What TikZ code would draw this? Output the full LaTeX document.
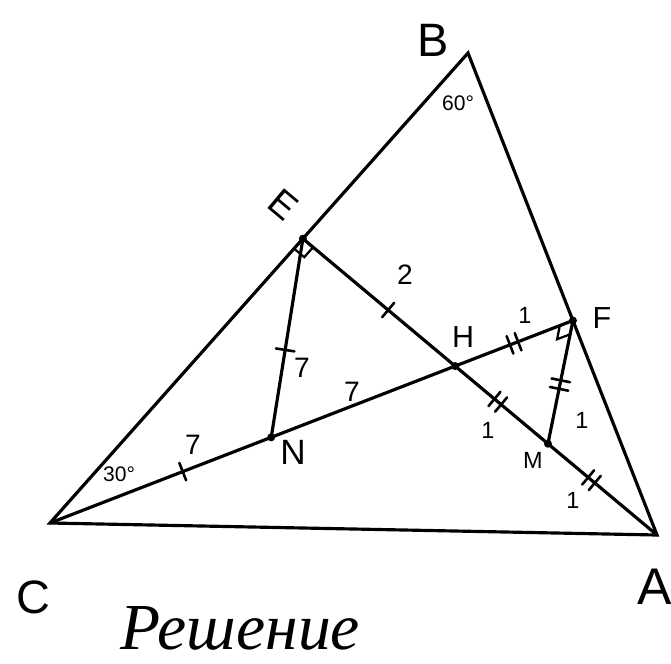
\documentclass[tikz,border=0pt]{standalone}
\usepackage{fontspec}
\setmainfont{Liberation Serif}
\newfontfamily\labfont{Liberation Sans}
\usetikzlibrary{calc,decorations.markings}
\begin{document}
\begin{tikzpicture}[x=0.03cm,y=-0.03cm,
  seg/.style={line width=2.7pt, line cap=round},
  onetick/.style={postaction={decorate,decoration={markings,mark=at position #1 with {\draw[line width=2.2pt] (0,-0.28cm)--(0,0.28cm);}}}},
  twotick/.style={postaction={decorate,decoration={markings,mark=at position #1 with {\draw[line width=2.2pt] (-0.13cm,-0.28cm)--(-0.13cm,0.28cm) (0.13cm,-0.28cm)--(0.13cm,0.28cm);}}}},
  dot/.style={circle, fill, inner sep=0, minimum size=0.24cm},
  lab/.style={font=\labfont\fontsize{#1}{#1}\selectfont, inner sep=0},
  ramark/.style={line width=1.9pt},
]
\useasboundingbox (0,0) rectangle (671,663);
% points
\coordinate (C) at (50,523);
\coordinate (A) at (657,535);
\coordinate (B) at (468,53);
\coordinate (E) at ($(C)!0.605!(B)$);
\coordinate (H) at ($(E)!0.43!(A)$);
\coordinate (F) at (intersection of C--H and B--A);
\coordinate (N) at ($(C)!0.546!(H)$);
\coordinate (M) at ($(E)!0.692!(A)$);
% triangle
\draw[seg] (C) -- (B) -- (A) -- cycle;
% segments with ticks
\draw[seg, onetick=0.6] (C) -- (N);
\draw[seg] (N) -- (H);
\draw[seg, twotick=0.5] (H) -- (F);
\draw[seg, onetick=0.56] (E) -- (N);
\draw[seg, onetick=0.56] (E) -- (H);
\draw[seg, twotick=0.46] (H) -- (M);
\draw[seg, twotick=0.4] (M) -- (A);
\draw[seg, twotick=0.52] (F) -- (M);
% right angle marks
\coordinate (e1) at ($(E)!0.4cm!(C)$);
\coordinate (e2) at ($(E)!0.4cm!(H)$);
\coordinate (e3) at ($(e1)+(e2)-(E)$);
\draw[ramark] (e1) -- (e3) -- (e2);
\coordinate (f1) at ($(F)!0.42cm!(H)$);
\coordinate (f2) at ($(F)!0.42cm!(M)$);
\coordinate (f3) at ($(f1)+(f2)-(F)$);
\draw[ramark] (f1) -- (f3) -- (f2);
% dots
\node[dot] (dE) at (E) {};
\node[dot] (dH) at (H) {};
\node[dot] (dN) at (N) {};
\node[dot] (dM) at (M) {};
\node[dot] (dF) at (F) {};
% labels
\node[lab=40pt] (lB) at (433,40) {B};
\node[lab=18pt] (l60) at (458,103) {60°};
\node[lab=32pt, rotate=-40] (lE) at (283,205) {E};
\node[lab=24pt] (l2) at (405,275) {2};
\node[lab=24pt] (l7a) at (302,368) {7};
\node[lab=24pt] (l7b) at (352,392) {7};
\node[lab=24pt] (l7c) at (193,445) {7};
\node[lab=18pt] (l30) at (119,474) {30°};
\node[lab=30pt] (lN) at (293,452) {N};
\node[lab=26pt] (lH) at (463,337) {H};
\node[lab=20pt] (l1a) at (525,315) {1};
\node[lab=26pt] (lF) at (602,318) {F};
\node[lab=20pt] (l1b) at (488,430) {1};
\node[lab=20pt] (l1c) at (582,420) {1};
\node[lab=20pt] (lM) at (533,460) {M};
\node[lab=20pt] (l1d) at (573,500) {1};
\node[lab=40pt] (lC) at (33,597) {C};
\node[lab=44pt] (lA) at (655,587) {A};
\node[inner sep=0, font=\itshape\fontsize{56}{56}\selectfont] (title) at (240,628) {Решение};
\end{tikzpicture}
\end{document}
